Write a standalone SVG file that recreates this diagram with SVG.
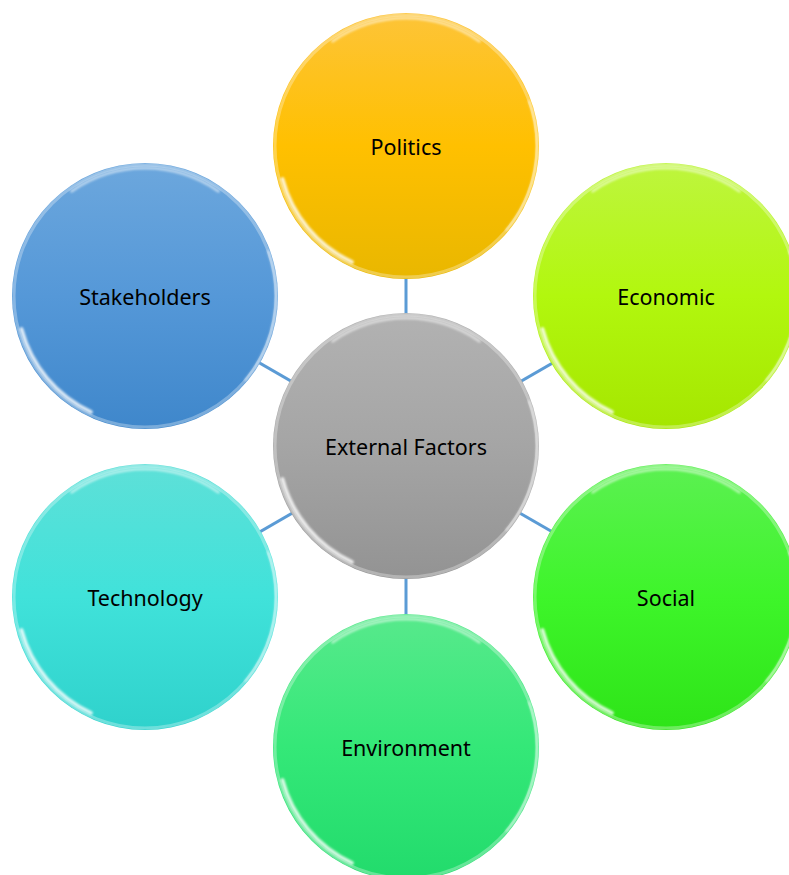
<svg xmlns="http://www.w3.org/2000/svg" width="789" height="875" viewBox="0 0 789 875">
<style>
.lbl{font-family:"Noto Sans","Open Sans","DejaVu Sans",sans-serif;font-size:21.5px;fill:#000;text-anchor:middle}
.conn{stroke:#5B9BD5;stroke-width:3;fill:none}
.rim{fill:none;stroke:#fff;stroke-opacity:0.3;stroke-width:3}
.hl{fill:none;stroke:#fff;stroke-linecap:round}
</style>
<defs>
<filter id="soft" x="-20%" y="-20%" width="140%" height="140%"><feGaussianBlur stdDeviation="1"/></filter>
<linearGradient id="gP" x1="0" y1="0" x2="0" y2="1"><stop offset="0" stop-color="#FDC438"/><stop offset="0.5" stop-color="#FFC000"/><stop offset="1" stop-color="#E9B700"/></linearGradient>
<linearGradient id="gE" x1="0" y1="0" x2="0" y2="1"><stop offset="0" stop-color="#BEF53E"/><stop offset="0.5" stop-color="#B2F70E"/><stop offset="1" stop-color="#A5E600"/></linearGradient>
<linearGradient id="gS" x1="0" y1="0" x2="0" y2="1"><stop offset="0" stop-color="#5CF052"/><stop offset="0.5" stop-color="#3EF52A"/><stop offset="1" stop-color="#2EE418"/></linearGradient>
<linearGradient id="gV" x1="0" y1="0" x2="0" y2="1"><stop offset="0" stop-color="#58E98C"/><stop offset="0.5" stop-color="#34E878"/><stop offset="1" stop-color="#22DB6C"/></linearGradient>
<linearGradient id="gT" x1="0" y1="0" x2="0" y2="1"><stop offset="0" stop-color="#5EE0D8"/><stop offset="0.5" stop-color="#40E2DA"/><stop offset="1" stop-color="#2FD2CC"/></linearGradient>
<linearGradient id="gK" x1="0" y1="0" x2="0" y2="1"><stop offset="0" stop-color="#6CA7DD"/><stop offset="0.5" stop-color="#5598D8"/><stop offset="1" stop-color="#3F87CB"/></linearGradient>
<linearGradient id="gC" x1="0" y1="0" x2="0" y2="1"><stop offset="0" stop-color="#B2B2B2"/><stop offset="0.5" stop-color="#A5A5A5"/><stop offset="1" stop-color="#939393"/></linearGradient>
<g id="shine">
<circle r="131" class="rim"/>
<g filter="url(#soft)">
<path class="hl" stroke-width="3" stroke-opacity="0.5" d="M -73.4 -104.8 A 128 128 0 0 1 73.4 -104.8"/>
<path class="hl" stroke-width="4" stroke-opacity="0.8" d="M -123.6 33.1 A 128 128 0 0 0 -54.1 116"/>
<path class="hl" stroke-width="2" stroke-opacity="0.6" d="M 123.1 -44.8 A 131 131 0 0 1 100.4 84.2"/>
</g>
</g>
</defs>
<g id="connectors">
<line class="conn" x1="406" y1="146" x2="406" y2="747"/>
<line class="conn" x1="145" y1="297" x2="667" y2="598"/>
<line class="conn" x1="667" y1="297" x2="145" y2="598"/>
</g>
<g id="politics">
<circle cx="406" cy="146" r="133" fill="url(#gP)"/>
<use href="#shine" x="406" y="146"/>
<text class="lbl" x="406" y="155">Politics</text>
</g>
<g id="economic">
<circle cx="666" cy="296" r="133" fill="url(#gE)"/>
<use href="#shine" x="666" y="296"/>
<text class="lbl" x="666" y="305">Economic</text>
</g>
<g id="social">
<circle cx="666" cy="597" r="133" fill="url(#gS)"/>
<use href="#shine" x="666" y="597"/>
<text class="lbl" x="666" y="606">Social</text>
</g>
<g id="environment">
<circle cx="406" cy="747" r="133" fill="url(#gV)"/>
<use href="#shine" x="406" y="747"/>
<text class="lbl" x="406" y="756">Environment</text>
</g>
<g id="technology">
<circle cx="145" cy="597" r="133" fill="url(#gT)"/>
<use href="#shine" x="145" y="597"/>
<text class="lbl" x="145" y="606">Technology</text>
</g>
<g id="stakeholders">
<circle cx="145" cy="296" r="133" fill="url(#gK)"/>
<use href="#shine" x="145" y="296"/>
<text class="lbl" x="145" y="305">Stakeholders</text>
</g>
<g id="external">
<circle cx="406" cy="446" r="133" fill="url(#gC)"/>
<use href="#shine" x="406" y="446"/>
<text class="lbl" x="406" y="455">External Factors</text>
</g>
</svg>
